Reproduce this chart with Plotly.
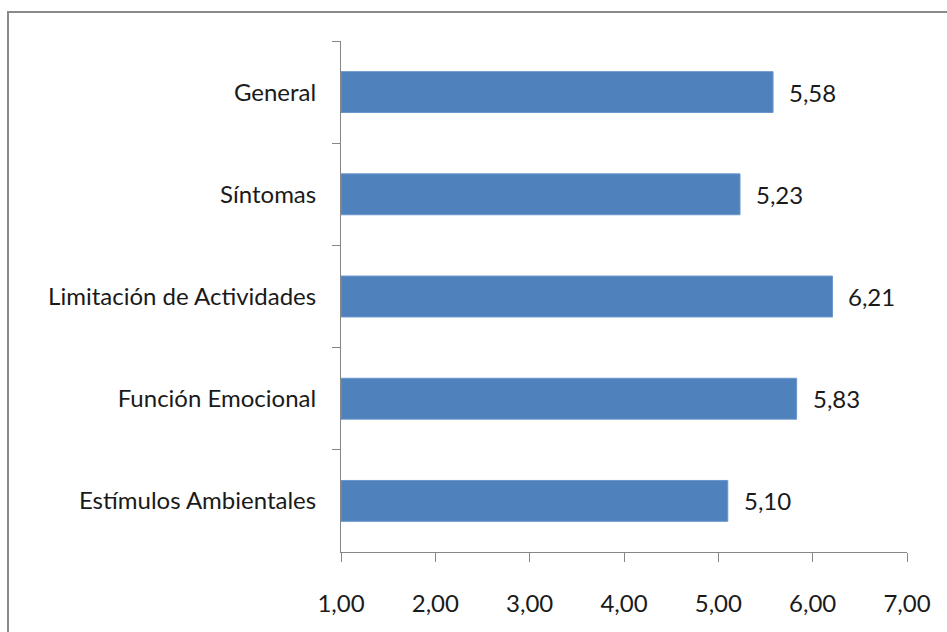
import plotly.graph_objects as go

categories = ["General", "Síntomas", "Limitación de Actividades", "Función Emocional", "Estímulos Ambientales"]
values = [5.58, 5.23, 6.21, 5.83, 5.10]
tick_vals = [1, 2, 3, 4, 5, 6, 7]
tick_text = ["1,00", "2,00", "3,00", "4,00", "5,00", "6,00", "7,00"]
value_labels = ["5,58", "5,23", "6,21", "5,83", "5,10"]

FONT = "Lato, Open Sans, sans-serif"
AXIS = "#868686"
TXT = "#1a1a1a"

fig = go.Figure()
fig.add_trace(go.Bar(
    y=categories, x=[v - 1 for v in values], base=1, orientation="h",
    marker=dict(color="#4F81BD", line=dict(color="#6A95CC", width=1)),
    hoverinfo="skip",
))

for c, v, t in zip(categories, values, value_labels):
    fig.add_annotation(x=v, y=c, text=t, showarrow=False, xanchor="left",
                       xshift=14, font=dict(family=FONT, size=24, color=TXT))

W, H = 947, 632
L, R, T, B = 341, 40, 41, 80
pw, ph = W - L - R, H - T - B
bx = (8 - L) / pw
by = 1 + (T - 12) / ph
fig.add_shape(type="rect", xref="paper", yref="paper", x0=bx, y0=-0.3, x1=1.2, y1=by,
              line=dict(color="#8a8a8a", width=2), layer="below")

fig.update_layout(
    width=W, height=H,
    margin=dict(l=L, r=R, t=T, b=B, autoexpand=False),
    plot_bgcolor="white", paper_bgcolor="white",
    bargap=0.6, showlegend=False,
    font=dict(family=FONT, size=24, color=TXT),
    xaxis=dict(range=[1, 7], tickvals=tick_vals, ticktext=tick_text,
               showgrid=False, zeroline=False, showline=True, linecolor=AXIS, linewidth=1,
               ticks="outside", ticklen=9, tickcolor=AXIS, ticklabelstandoff=21,
               tickfont=dict(family=FONT, size=24, color=TXT)),
    yaxis=dict(categoryorder="array", categoryarray=categories, autorange="reversed",
               showgrid=False, zeroline=False, showline=True, linecolor=AXIS, linewidth=1,
               ticks="outside", ticklen=8, tickcolor=AXIS, tickson="boundaries",
               ticklabelstandoff=19,
               tickfont=dict(family=FONT, size=24, color=TXT)),
)

fig.write_html("out.html", config={"displayModeBar": False},
               post_script="document.body.style.margin='0';document.body.style.overflow='hidden';")
